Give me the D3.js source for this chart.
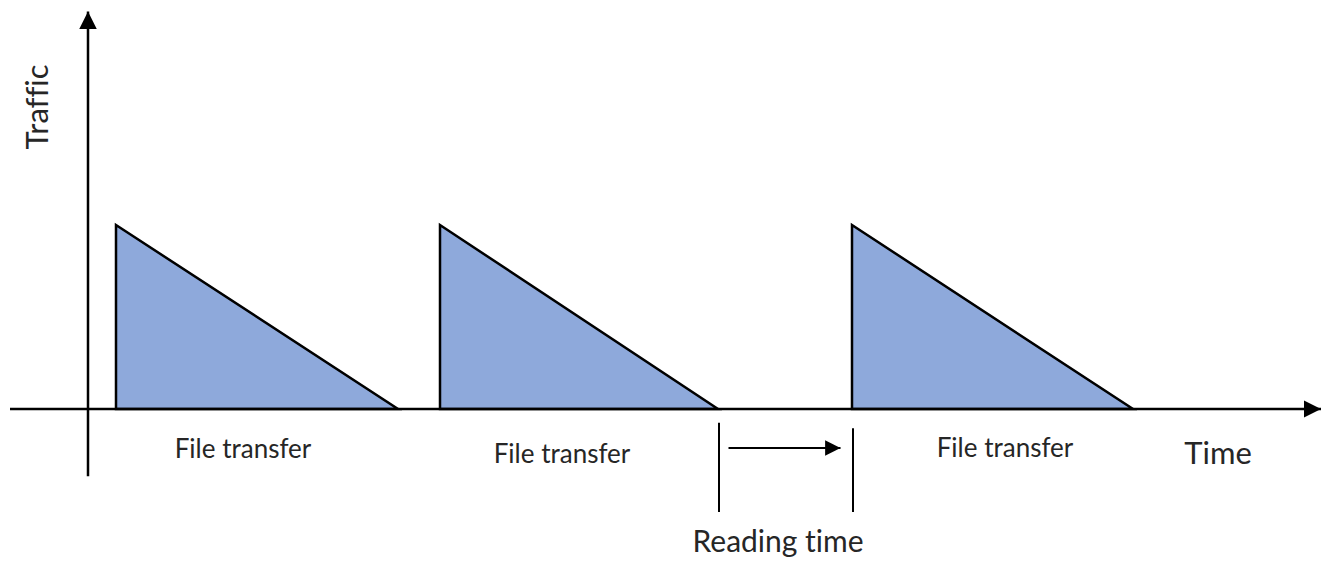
<!DOCTYPE html>
<html>
<head>
<meta charset="utf-8">
<script src="https://cdn.jsdelivr.net/npm/d3@7"></script>
<style>
  html, body { margin: 0; padding: 0; background: #fff; }
  svg { display: block; }
  text { font-family: Lato, "Open Sans", sans-serif; fill: #262626; font-variant-ligatures: none; }
</style>
</head>
<body>
<svg id="chart" width="1326" height="561"></svg>
<script>
// ---- data (time units, traffic units) ----
const transferStarts = [2.8, 35.2, 76.4];
const transferEnds   = [31.0, 63.0, 104.5];
const transferPeaks  = [10, 10, 10];
const transferLabels = ["File transfer", "File transfer", "File transfer"];
const transferLabelX = [15.5, 47.4, 91.7];
const transferLabelDy = [0, 5, -1];
const readingStart = 63.1;
const readingEnd = 76.5;
const axisLabels = { x: "Time", y: "Traffic", gap: "Reading time" };

const svg = d3.select("#chart");

const x = d3.scaleLinear().domain([0, 10]).range([88, 188]);
const y = d3.scaleLinear().domain([0, 10]).range([409, 225]);

// arrow markers
const defs = svg.append("defs");
defs.append("marker")
  .attr("id", "arrowAxis")
  .attr("viewBox", "0 0 10 10")
  .attr("refX", 10).attr("refY", 5)
  .attr("markerWidth", 7).attr("markerHeight", 7)
  .attr("markerUnits", "strokeWidth")
  .attr("orient", "auto")
  .append("path").attr("d", "M0,0 L10,5 L0,10 Z").attr("fill", "#000");
defs.append("marker")
  .attr("id", "arrowSmall")
  .attr("viewBox", "0 0 10 10")
  .attr("refX", 10).attr("refY", 5)
  .attr("markerWidth", 8).attr("markerHeight", 7)
  .attr("markerUnits", "strokeWidth")
  .attr("orient", "auto")
  .append("path").attr("d", "M0,0 L10,5 L0,10 Z").attr("fill", "#000");

// triangles
const tri = transferStarts.map((s, i) => ({ s, e: transferEnds[i], p: transferPeaks[i], label: transferLabels[i], lx: transferLabelX[i], dy: transferLabelDy[i] }));
const line = d3.line().x(d => x(d[0])).y(d => y(d[1]));

svg.selectAll("path.tri").data(tri).join("path")
  .attr("class", "tri")
  .attr("d", d => line([[d.s, 0], [d.s, d.p], [d.e, 0]]) + "Z")
  .attr("fill", "#8EA9DB")
  .attr("stroke", "#000")
  .attr("stroke-width", 2.5)
  .attr("stroke-linejoin", "miter");

// axes
svg.append("line")
  .attr("x1", x(-7.8)).attr("y1", y(0))
  .attr("x2", x(123.3)).attr("y2", y(0))
  .attr("stroke", "#000").attr("stroke-width", 2.5)
  .attr("marker-end", "url(#arrowAxis)");
svg.append("line")
  .attr("x1", x(0)).attr("y1", y(-3.65))
  .attr("x2", x(0)).attr("y2", y(21.6))
  .attr("stroke", "#000").attr("stroke-width", 2.5)
  .attr("marker-end", "url(#arrowAxis)");

// transfer labels
svg.selectAll("text.ft").data(tri).join("text")
  .attr("class", "ft")
  .attr("x", d => x(d.lx))
  .attr("y", d => y(0) + 49 + d.dy)
  .attr("text-anchor", "middle")
  .attr("font-size", 26)
  .text(d => d.label);

// reading time markers
svg.append("line")
  .attr("x1", x(readingStart)).attr("x2", x(readingStart))
  .attr("y1", y(-0.75)).attr("y2", y(-5.6))
  .attr("stroke", "#000").attr("stroke-width", 2);
svg.append("line")
  .attr("x1", x(readingEnd)).attr("x2", x(readingEnd))
  .attr("y1", y(-1.05)).attr("y2", y(-5.6))
  .attr("stroke", "#000").attr("stroke-width", 2);
svg.append("line")
  .attr("x1", x(readingStart + 0.95)).attr("x2", x(readingEnd - 1.25))
  .attr("y1", y(-2.12)).attr("y2", y(-2.12))
  .attr("stroke", "#000").attr("stroke-width", 2.2)
  .attr("marker-end", "url(#arrowSmall)");

svg.append("text")
  .attr("x", x((readingStart + readingEnd) / 2) - 8)
  .attr("y", 552)
  .attr("text-anchor", "middle")
  .attr("font-size", 30)
  .text(axisLabels.gap);

// axis titles
svg.append("text")
  .attr("x", 1218).attr("y", 464)
  .attr("text-anchor", "middle")
  .attr("font-size", 31)
  .text(axisLabels.x);

svg.append("text")
  .attr("transform", "translate(48,107) rotate(-90)")
  .attr("text-anchor", "middle")
  .attr("font-size", 31)
  .text(axisLabels.y);
</script>
</body>
</html>
